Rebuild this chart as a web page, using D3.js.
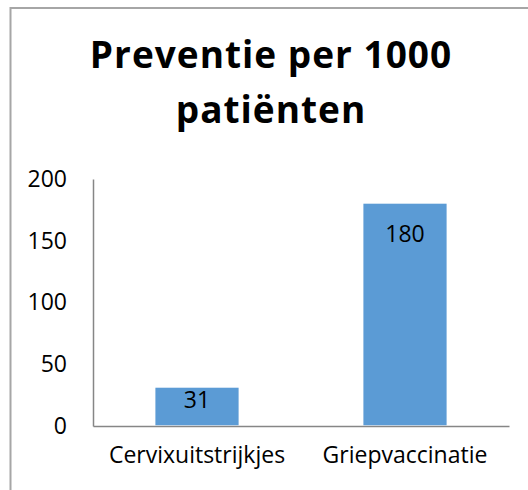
<!DOCTYPE html>
<html>
<head>
<meta charset="utf-8">
<script src="https://cdn.jsdelivr.net/npm/d3@7"></script>
<style>
  body { margin: 0; background: #fff; }
  text { font-family: "Open Sans", Lato, sans-serif; fill: #000; font-variant-ligatures: none; }
</style>
</head>
<body>
<div id="chart"></div>
<script>
const WIDTH = 528, HEIGHT = 490;
const MARGIN = { left: 93, right: 19, top: 179, bottom: 64 };

// data
const categories = ["Cervixuitstrijkjes", "Griepvaccinatie"];
const values = [31, 180];
const yTicks = [0, 50, 100, 150, 200];
const titleLines = ["Preventie per 1000", "patiënten"];

const svg = d3.select("#chart")
    .append("svg")
    .attr("width", WIDTH)
    .attr("height", HEIGHT)

// chart frame (right/bottom edges run off the picture)
svg.append("path")
    .attr("d", `M10.5,${HEIGHT + 5} L10.5,8 L${WIDTH + 5},8`)
    .attr("fill", "none")
    .attr("stroke", "#a6a6a6")
    .attr("stroke-width", 2)

const x = d3.scaleBand()
    .domain(categories)
    .range([MARGIN.left, WIDTH - MARGIN.right])
    .padding(0)
const y = d3.scaleLinear()
    .domain([0, 200])
    .range([HEIGHT - MARGIN.bottom, MARGIN.top])

const BAR_FRAC = 0.4;
const barW = x.bandwidth() * BAR_FRAC;

// title
svg.append("g").selectAll("text")
    .data(titleLines)
    .join("text")
    .attr("x", 271)
    .attr("y", (d, i) => 68 + i * 55)
    .attr("text-anchor", "middle")
    .style("font-size", "37px")
    .style("font-weight", "bold")
    .style("letter-spacing", "1px")
    .text(d => d)

// y axis
const yAxis = svg.append("g")
    .attr("transform", `translate(${MARGIN.left},0)`)
    .call(d3.axisLeft(y).tickValues(yTicks).tickSize(0).tickPadding(26))
yAxis.select(".domain").attr("stroke", "#868686").attr("stroke-width", 1.5)
yAxis.selectAll("text").style("font-size", "23px").attr("font-family", null)

// x axis
const xAxis = svg.append("g")
    .attr("transform", `translate(0,${y(0)})`)
    .call(d3.axisBottom(x).tickSize(0).tickPadding(21))
xAxis.select(".domain").attr("stroke", "#868686").attr("stroke-width", 1.5)
xAxis.selectAll("text").style("font-size", "23px").attr("font-family", null)

// bars
const bars = categories.map((c, i) => ({ cat: c, value: values[i] }))
svg.append("g").selectAll("rect")
    .data(bars)
    .join("rect")
    .attr("x", d => x(d.cat) + (x.bandwidth() - barW) / 2)
    .attr("y", d => y(d.value))
    .attr("width", barW)
    .attr("height", d => y(0) - y(d.value) - 0.75)
    .attr("fill", "#5b9bd5")

// value labels inside the bar top (short bars: roughly centred)
const labelOffset = d => Math.min(38, (y(0) - y(d.value)) / 2 + 1)
svg.append("g").selectAll("text")
    .data(bars)
    .join("text")
    .attr("x", d => x(d.cat) + x.bandwidth() / 2)
    .attr("y", d => y(d.value) + labelOffset(d))
    .attr("text-anchor", "middle")
    .style("font-size", "23px")
    .text(d => d.value)
</script>
</body>
</html>
